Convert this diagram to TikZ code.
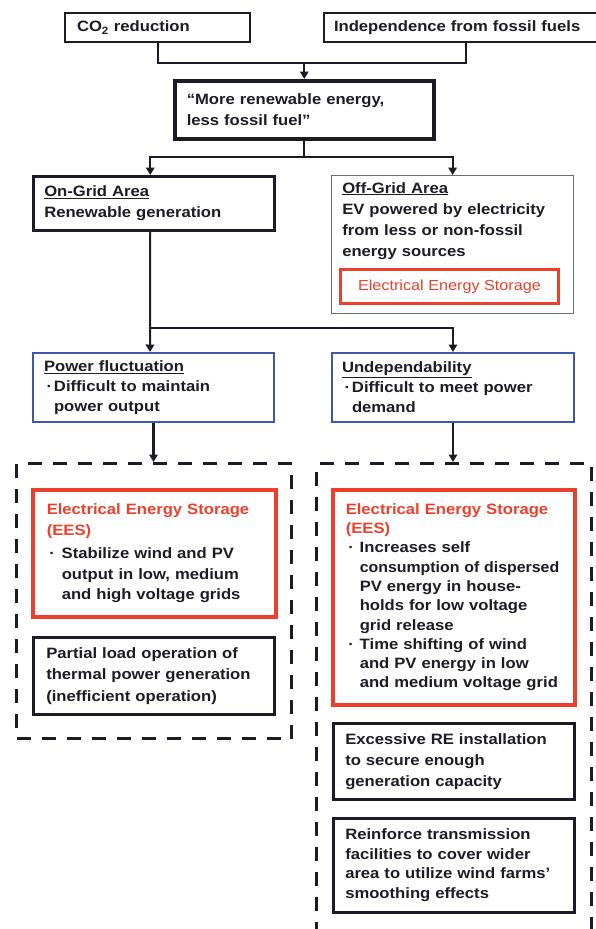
\documentclass[tikz,border=0pt]{standalone}
\usepackage{fontspec}
\usepackage{graphicx}
\setmainfont{Liberation Sans}[FakeStretch=1.11]
\usetikzlibrary{arrows.meta}

\definecolor{eesred}{RGB}{236,64,44}
\definecolor{probblue}{RGB}{62,88,168}
\definecolor{ink}{RGB}{28,28,38}

\newcommand\bul[1][14pt]{\makebox[#1][l]{\hspace{2.5pt}\textperiodcentered}}
\newcommand\ind[1][14pt]{\hspace*{#1}}

\tikzset{
  box/.style={draw=ink, line width=2.5pt, anchor=north west, align=left, inner ysep=0pt,
    text=ink, font=\fontsize{15}{21}\selectfont\bfseries},
  zone/.style={draw=ink, line width=3pt, dash pattern=on 14pt off 11pt,
    anchor=north west, inner sep=0pt},
  conn/.style={draw=ink, line width=2pt},
  arr/.style={-{Triangle[width=8.5pt,length=7.5pt]}},
}

\begin{document}
\begin{tikzpicture}[x=1pt, y=-1pt]
  \useasboundingbox (0,0) rectangle (595,929);

  % Motivation
  \node[box, line width=2pt, inner xsep=12pt, text width=161pt, minimum height=29pt] (co2) at (64,12) {CO\textsubscript{2} reduction};
  \node[box, line width=2pt, inner xsep=10pt, text width=264pt, minimum height=29pt] (indep) at (323,12) {Independence from fossil fuels};
  \node[box, line width=3.5pt, inner xsep=12pt, text width=235pt, minimum height=58pt] (quote) at (173,79) {“More renewable energy,\\less fossil fuel"};

  \coordinate (j1) at ([yshift=16.5pt]quote.north);
  \draw[conn] (co2.south) |- (j1) -| (indep.south);
  \draw[conn, arr] (j1) -- (quote.north);

  % On-grid / off-grid
  \node[box, inner xsep=11pt, text width=219pt, minimum height=54pt] (ongrid) at (32,175) {\underline{On-Grid Area}\\Renewable generation};
  \node[box, draw=ink!65, line width=1.2pt, minimum width=242pt, minimum height=138pt] (offgrid) at (331,175) {};
  \node[box, draw=none, anchor=base west, inner xsep=0pt, text width=225pt] (offtxt) at ([xshift=10pt, yshift=-18pt]offgrid.north west) {\underline{Off-Grid Area}\\EV powered by electricity\\from less or non-fossil\\energy sources};
  \node[box, draw=eesred, line width=3pt, text=eesred, align=center, font=\fontsize{14.6}{18}\selectfont,
    minimum width=218pt, minimum height=34pt] (eessmall) at ([xshift=8pt, yshift=-93pt]offgrid.north west) {Electrical Energy Storage};

  \coordinate (j2) at ([yshift=-16.5pt]quote.south);
  \draw[conn] (quote.south) -- (j2);
  \draw[conn, arr] (j2) -| ([xshift=-3.5pt]ongrid.north);
  \draw[conn, arr] (j2) -| (offgrid.north);

  % Problems
  \node[box, draw=probblue, line width=2pt, inner xsep=11pt, text width=219pt, minimum height=69pt,
    font=\fontsize{15}{20}\selectfont\bfseries] (pf) at (32,352) {\underline{Power fluctuation}\\\bul[10pt]Difficult to maintain\\\ind[10pt]power output};
  \node[box, draw=probblue, line width=2pt, inner xsep=10pt, text width=222pt, minimum height=69pt,
    font=\fontsize{15}{20}\selectfont\bfseries] (undep) at (331,352) {\underline{Undependability}\\\bul[10pt]Difficult to meet power\\\ind[10pt]demand};

  \coordinate (j3) at (149,328);
  \draw[conn, arr] ([xshift=-3.5pt]ongrid.south) -- ([xshift=-3.5pt]pf.north);
  \draw[conn, arr] (j3) -| (undep.north);

  % Solutions
  \node[zone, minimum width=275pt, minimum height=275pt] (leftzone) at (15,462) {};
  \node[zone, minimum width=275pt, minimum height=467pt] (rightzone) at (315,462) {};

  \draw[conn, arr, line width=3.5pt] (pf.south) -- (pf.south |- leftzone.north);
  \draw[conn, arr] (undep.south) -- (undep.south |- rightzone.north);

  \node[box, draw=eesred, line width=3.5pt, inner xsep=14pt, text width=215pt, minimum height=127pt,
    font=\fontsize{15}{20.5}\selectfont\bfseries] (eesleft) at (31,488)
    {\textcolor{eesred}{Electrical Energy Storage}\\\textcolor{eesred}{(EES)}\\[3pt]\bul[15pt]Stabilize wind and PV\\\ind[15pt]output in low, medium\\\ind[15pt]and high voltage grids};
  \node[box, inner xsep=13pt, text width=215pt, minimum height=77pt,
    font=\fontsize{15}{21.5}\selectfont\bfseries] (thermal) at (32,636)
    {Partial load operation of\\thermal power generation\\(inefficient operation)};

  \node[box, draw=eesred, line width=3.5pt, inner xsep=13pt, text width=216pt, minimum height=215pt,
    font=\fontsize{15}{19.3}\selectfont\bfseries] (eesright) at (331,488)
    {\textcolor{eesred}{Electrical Energy Storage}\\\textcolor{eesred}{(EES)}\\\bul Increases self\\\ind\scalebox{0.955}[1]{consumption of dispersed}\\\ind PV energy in house-\\\ind holds for low voltage\\\ind grid release\\\bul Time shifting of wind\\\ind and PV energy in low\\\ind and medium voltage grid};
  \node[box, inner xsep=12pt, text width=217pt, minimum height=76pt] (excess) at (332,722)
    {Excessive RE installation\\to secure enough\\generation capacity};
  \node[box, inner xsep=12pt, text width=217pt, minimum height=94pt,
    font=\fontsize{15}{19.7}\selectfont\bfseries] (reinforce) at (332,817)
    {Reinforce transmission\\facilities to cover wider\\area to utilize wind farms’\\smoothing effects};
\end{tikzpicture}
\end{document}
